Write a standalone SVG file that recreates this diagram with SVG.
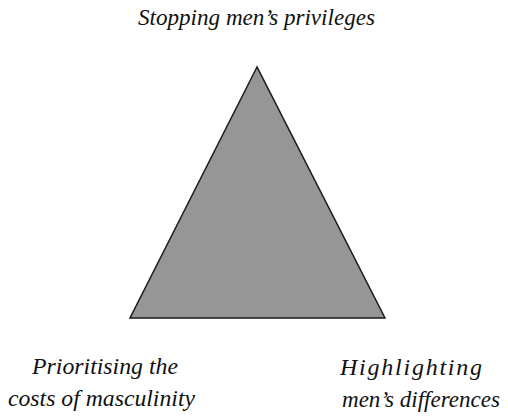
<svg xmlns="http://www.w3.org/2000/svg" width="508" height="420" viewBox="0 0 508 420">
<style>
.lbl{font-family:"Liberation Serif","DejaVu Serif",serif;font-style:italic;font-size:24px;fill:#111;text-anchor:middle}
.tri{fill:#969696;stroke:#1a1a1a;stroke-width:1.5;stroke-linejoin:miter}
</style>
<rect width="508" height="420" fill="#ffffff"/>
<g id="triangle">
<polygon class="tri" points="257,67 130,318 385,318"/>
</g>
<g id="connectors"></g>
<g id="top">
<text class="lbl" x="256.5" y="25" textLength="237" lengthAdjust="spacingAndGlyphs">Stopping men’s privileges</text>
</g>
<g id="left">
<text class="lbl" x="105" y="374" textLength="146" lengthAdjust="spacingAndGlyphs">Prioritising the</text>
<text class="lbl" x="101.5" y="406" textLength="187" lengthAdjust="spacingAndGlyphs">costs of masculinity</text>
</g>
<g id="right">
<text class="lbl" x="411" y="375" textLength="142" lengthAdjust="spacing">Highlighting</text>
<text class="lbl" x="421" y="407" textLength="158" lengthAdjust="spacingAndGlyphs">men’s differences</text>
</g>
</svg>
